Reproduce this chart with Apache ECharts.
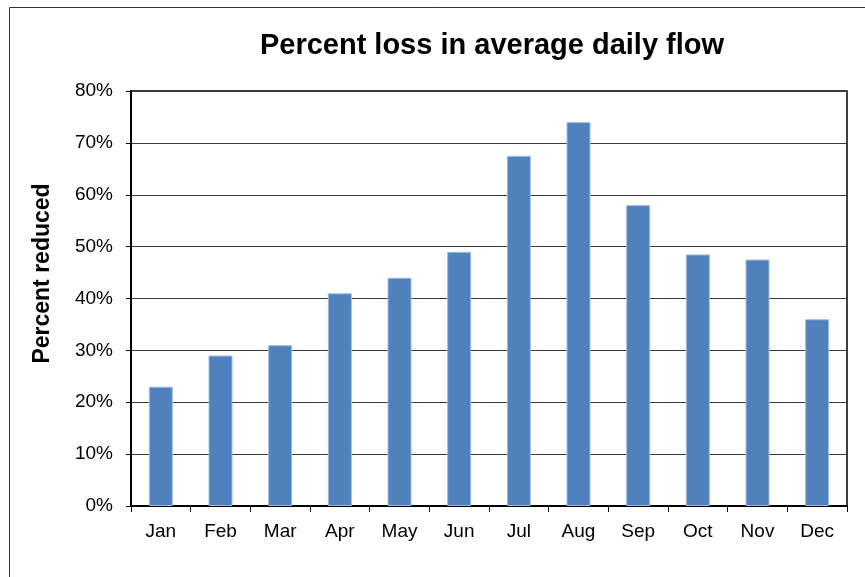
<!DOCTYPE html>
<html style="height: 100%">
<head>
    <meta charset="utf-8">
</head>
<body style="height: 100%; margin: 0; background-color: #fff;">
<div id="container" style="width: 865px; height: 577px"></div>
<script type="text/javascript" src="https://cdn.jsdelivr.net/npm/echarts@6/dist/echarts.min.js"></script>
<script type="text/javascript">
    var months = ['Jan', 'Feb', 'Mar', 'Apr', 'May', 'Jun', 'Jul', 'Aug', 'Sep', 'Oct', 'Nov', 'Dec'];
    var percentLoss = [23, 29, 31, 41, 44, 49, 67.5, 74, 58, 48.5, 47.5, 36];

    var font = "'Liberation Sans', Arial, sans-serif";
    var dom = document.getElementById("container");
    var myChart = echarts.init(dom);

    var option = {
        animation: false,
        backgroundColor: '#fff',
        title: {
            text: 'Percent loss in average daily flow',
            left: 487,
            top: 26,
            textAlign: 'center',
            textStyle: {
                fontFamily: font,
                fontWeight: 'bold',
                fontSize: 29,
                color: '#000'
            }
        },
        graphic: [{
            type: 'rect',
            shape: { x: 9.5, y: 7.5, width: 900, height: 620 },
            style: { fill: null, stroke: '#333', lineWidth: 1 },
            silent: true
        }],
        grid: {
            left: 131,
            right: 18,
            top: 91,
            bottom: 71,
            show: true,
            borderColor: '#000',
            borderWidth: 1.5,
            backgroundColor: 'transparent'
        },
        xAxis: {
            type: 'category',
            data: months,
            axisLine: { lineStyle: { color: '#000', width: 2 } },
            axisTick: { show: true, length: 6, lineStyle: { color: '#000', width: 1 } },
            axisLabel: { margin: 16, fontFamily: font, fontSize: 19, color: '#000' }
        },
        yAxis: {
            type: 'value',
            min: 0,
            max: 80,
            interval: 10,
            name: 'Percent reduced',
            nameLocation: 'middle',
            nameGap: 77,
            nameTextStyle: {
                fontFamily: font, fontWeight: 'bold', fontSize: 23, color: '#000',
                padding: [0, 0, 0, 50]
            },
            axisLine: { show: true, lineStyle: { color: '#000', width: 2 } },
            axisTick: { show: true, length: 5, lineStyle: { color: '#000', width: 1 } },
            axisLabel: { margin: 18, formatter: '{value}%', fontFamily: font, fontSize: 19, color: '#000' },
            splitLine: { show: true, lineStyle: { color: '#3a3a3a', width: 1.2 } }
        },
        series: [{
            type: 'bar',
            data: percentLoss,
            barWidth: 24,
            itemStyle: {
                color: '#4F81BD',
                borderColor: '#9dbbe0',
                borderWidth: 1
            }
        }]
    };
    myChart.setOption(option);
</script>
</body>
</html>
